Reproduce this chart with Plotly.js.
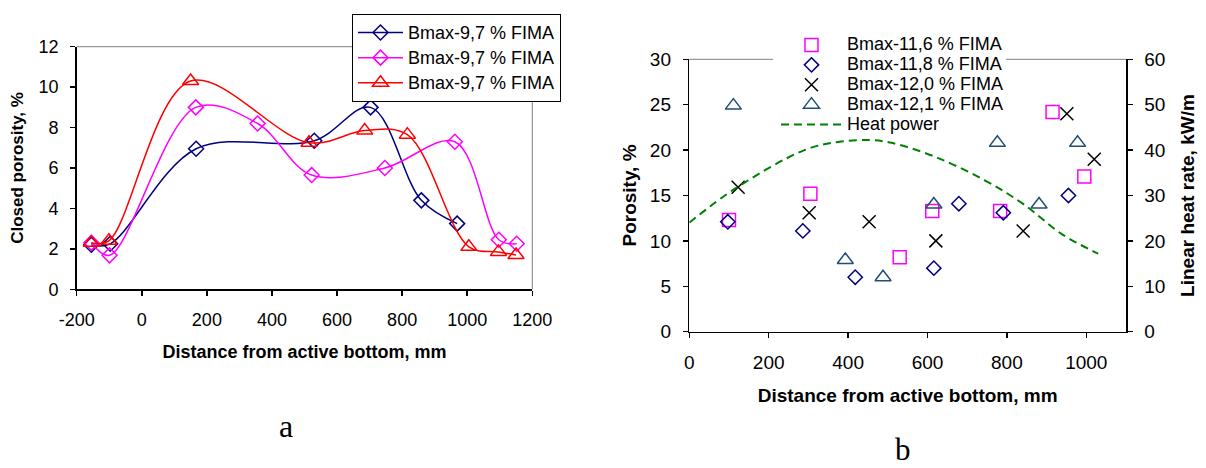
<!DOCTYPE html>
<html><head><meta charset="utf-8">
<script src="https://cdn.plot.ly/plotly-3.0.1.min.js"></script>
<style>html,body{margin:0;padding:0;background:#fff}#chart{width:1206px;height:468px}</style>
</head><body><div id="chart"></div>
<script>
// ---- Chart a: closed porosity vs distance ----
const aNavyX = [-155, -97, 167, 530, 703, 859, 969];
const aNavyY = [2.2, 2.25, 6.95, 7.35, 9.0, 4.4, 3.25];
const aMagX = [-155, -99, 166, 356, 522, 747, 962, 1097, 1152];
const aMagY = [2.3, 1.68, 9.0, 8.2, 5.65, 6.0, 7.3, 2.45, 2.25];
const aRedX = [-155, -101, 150, 514, 685, 816, 1005, 1096, 1150];
const aRedY = [2.3, 2.4, 10.3, 7.25, 7.85, 7.65, 2.1, 1.85, 1.7];
const aNames = ['Bmax-9,7 % FIMA', 'Bmax-9,7 % FIMA', 'Bmax-9,7 % FIMA'];
const aXTicks = [-200, 0, 200, 400, 600, 800, 1000, 1200];
const aXTickText = ['-200', '0', '200', '400', '600', '800', '1000', '1200'];

// ---- Chart b: porosity and heat rate vs distance ----
const b116X = [100, 305, 530, 612, 783, 915, 995];
const b116Y = [12.3, 15.2, 8.2, 13.3, 13.3, 24.2, 17.1];
const b118X = [97, 286, 418, 616, 679, 791, 955];
const b118Y = [12.1, 11.1, 6.0, 7.0, 14.1, 13.1, 15.0];
const b120X = [123, 302, 453, 621, 841, 951, 1020];
const b120Y = [15.9, 13.1, 12.1, 10.0, 11.1, 24.0, 19.0];
const b121X = [111, 393, 488, 616, 776, 881, 978];
const b121Y = [24.9, 7.9, 6.0, 14.0, 20.8, 14.0, 20.8];
const heatX = [0, 115, 290, 375, 455, 510, 620, 745, 840, 940, 1030];
const heatY = [24, 31.5, 40, 41.8, 42.2, 41.6, 38.5, 33.3, 28.2, 21.4, 17.2];
const bNames = ['Bmax-11,6 % FIMA', 'Bmax-11,8 % FIMA', 'Bmax-12,0 % FIMA', 'Bmax-12,1 % FIMA', 'Heat power'];

const FONT = 'Liberation Sans, Arial, sans-serif';
const SERIF = 'Liberation Serif, Times New Roman, serif';
const W = 1206, H = 468;
const big = t => '<span style="font-size:18px">' + t + '</span>';

const traces = [
  {x: aNavyX, y: aNavyY, name: big(aNames[0]), xaxis: 'x', yaxis: 'y', legend: 'legend',
   mode: 'lines+markers', line: {color: '#000080', width: 1.5, shape: 'spline', smoothing: 1},
   marker: {symbol: 'diamond-open', size: 11.5, color: '#000080', line: {width: 1.5}}},
  {x: aMagX, y: aMagY, name: big(aNames[1]), xaxis: 'x', yaxis: 'y', legend: 'legend',
   mode: 'lines+markers', line: {color: '#FF00FF', width: 1.5, shape: 'spline', smoothing: 1},
   marker: {symbol: 'diamond-open', size: 11.5, color: '#FF00FF', line: {width: 1.5}}},
  {x: aRedX, y: aRedY, name: big(aNames[2]), xaxis: 'x', yaxis: 'y', legend: 'legend',
   mode: 'lines+markers', line: {color: '#FF0000', width: 1.5, shape: 'spline', smoothing: 1},
   marker: {symbol: 'triangle-up-open', size: 14, color: '#FF0000', line: {width: 1.5}}},

  {x: b116X, y: b116Y, name: big(bNames[0]), xaxis: 'x2', yaxis: 'y2', legend: 'legend2', mode: 'markers',
   marker: {symbol: 'square-open', size: 13, color: '#FF00FF', line: {width: 1.5}}},
  {x: b118X, y: b118Y, name: big(bNames[1]), xaxis: 'x2', yaxis: 'y2', legend: 'legend2', mode: 'markers',
   marker: {symbol: 'diamond-open', size: 11, color: '#000080', line: {width: 1.5}}},
  {x: b120X, y: b120Y, name: big(bNames[2]), xaxis: 'x2', yaxis: 'y2', legend: 'legend2', mode: 'markers',
   marker: {symbol: 'x-thin-open', size: 13, color: '#000000', line: {width: 1.5, color: '#000000'}}},
  {x: b121X, y: b121Y, name: big(bNames[3]), xaxis: 'x2', yaxis: 'y2', legend: 'legend2', mode: 'markers',
   marker: {symbol: 'triangle-up-open', size: 14, color: '#1F4E79', line: {width: 1.5}}},
  {x: heatX, y: heatY, name: big(bNames[4]), xaxis: 'x2', yaxis: 'y3', legend: 'legend2', mode: 'lines',
   line: {color: '#008000', width: 2, dash: '8px,5px', shape: 'spline', smoothing: 1}}
];

const axBase = {
  showline: true, linecolor: '#000', linewidth: 1.5, ticks: 'outside', ticklen: 5, tickwidth: 1.5,
  tickcolor: '#000', showgrid: false, zeroline: false, fixedrange: true,
  tickfont: {family: FONT, size: 18, color: '#000'}
};

// right plot: top border is interrupted where the legend sits
const gapL = (773 - 689.3) / (1126 - 689.3), gapR = (1006 - 689.3) / (1126 - 689.3);

const layout = {
  width: W, height: H, margin: {l: 0, r: 0, t: 0, b: 0},
  paper_bgcolor: '#fff', plot_bgcolor: 'rgba(0,0,0,0)',
  font: {family: FONT, color: '#000'},
  xaxis: Object.assign({}, axBase, {
    domain: [76.7 / W, 532.3 / W], range: [-200, 1200], tickmode: 'array',
    tickvals: aXTicks, ticktext: aXTickText, anchor: 'y',
    ticklabelstandoff: 9,
    title: {text: 'Distance from active bottom, mm', font: {family: FONT, size: 18, weight: 'bold'}, standoff: 16}
  }),
  yaxis: Object.assign({}, axBase, {
    domain: [1 - 289.3 / H, 1 - 46.7 / H], range: [0, 12], dtick: 2, anchor: 'x',
    ticklabelstandoff: 8,
    title: {text: 'Closed porosity, %', font: {family: FONT, size: 17, weight: 'bold'}, standoff: 10}
  }),
  xaxis2: Object.assign({}, axBase, {
    domain: [689.3 / W, 1126 / W], range: [0, 1100], dtick: 200, tick0: 0, anchor: 'y2',
    ticklabelstandoff: 8, tickfont: {family: FONT, size: 19, color: '#000'},
    title: {text: 'Distance from active bottom, mm', font: {family: FONT, size: 19, weight: 'bold'}, standoff: 16}
  }),
  yaxis2: Object.assign({}, axBase, {
    domain: [1 - 331.7 / H, 1 - 59.3 / H], range: [0, 30], dtick: 5, anchor: 'x2',
    ticklabelstandoff: 8, tickfont: {family: FONT, size: 19, color: '#000'},
    title: {text: 'Porosity, %', font: {family: FONT, size: 19, weight: 'bold'}, standoff: 8}
  }),
  yaxis3: Object.assign({}, axBase, {
    domain: [1 - 331.7 / H, 1 - 59.3 / H], range: [0, 60], dtick: 10, anchor: 'x2',
    overlaying: 'y2', side: 'right',
    ticklabelstandoff: 8, tickfont: {family: FONT, size: 19, color: '#000'},
    title: {text: 'Linear heat rate, kW/m', font: {family: FONT, size: 19, weight: 'bold'}, standoff: 16}
  }),
  legend: {
    x: 352 / W, y: 1 - 14 / H, xanchor: 'left', yanchor: 'top', bgcolor: '#fff',
    bordercolor: '#000', borderwidth: 1, font: {family: FONT, size: 17, color: '#000'},
    itemwidth: 45, tracegroupgap: 0
  },
  legend2: {
    x: 776 / W, y: 1 - 30 / H, xanchor: 'left', yanchor: 'top', bgcolor: 'rgba(0,0,0,0)',
    borderwidth: 0, font: {family: FONT, size: 13, color: '#000'},
    itemwidth: 61, tracegroupgap: 0
  },
  shapes: [
    {type: 'line', xref: 'x domain', yref: 'y domain', x0: 0, x1: 1, y0: 1, y1: 1, line: {color: '#808080', width: 1}, layer: 'below'},
    {type: 'line', xref: 'x domain', yref: 'y domain', x0: 1, x1: 1, y0: 0, y1: 1, line: {color: '#808080', width: 1}, layer: 'below'},
    {type: 'line', xref: 'x2 domain', yref: 'y2 domain', x0: 0, x1: gapL, y0: 1, y1: 1, line: {color: '#808080', width: 1}, layer: 'below'},
    {type: 'line', xref: 'x2 domain', yref: 'y2 domain', x0: gapR, x1: 1, y0: 1, y1: 1, line: {color: '#808080', width: 1}, layer: 'below'}
  ],
  annotations: [
    {text: 'a', xref: 'paper', yref: 'paper', x: 286 / W, y: 1 - 425.7 / H, xanchor: 'center', yanchor: 'middle',
     showarrow: false, borderpad: 0, font: {family: SERIF, size: 32, color: '#000'}},
    {text: 'b', xref: 'paper', yref: 'paper', x: 903 / W, y: 0, xanchor: 'center', yanchor: 'bottom',
     showarrow: false, borderpad: 0, font: {family: SERIF, size: 31, color: '#000'}}
  ],
  showlegend: true
};

Plotly.newPlot('chart', traces, layout, {displayModeBar: false, staticPlot: true});
</script>
</body></html>
